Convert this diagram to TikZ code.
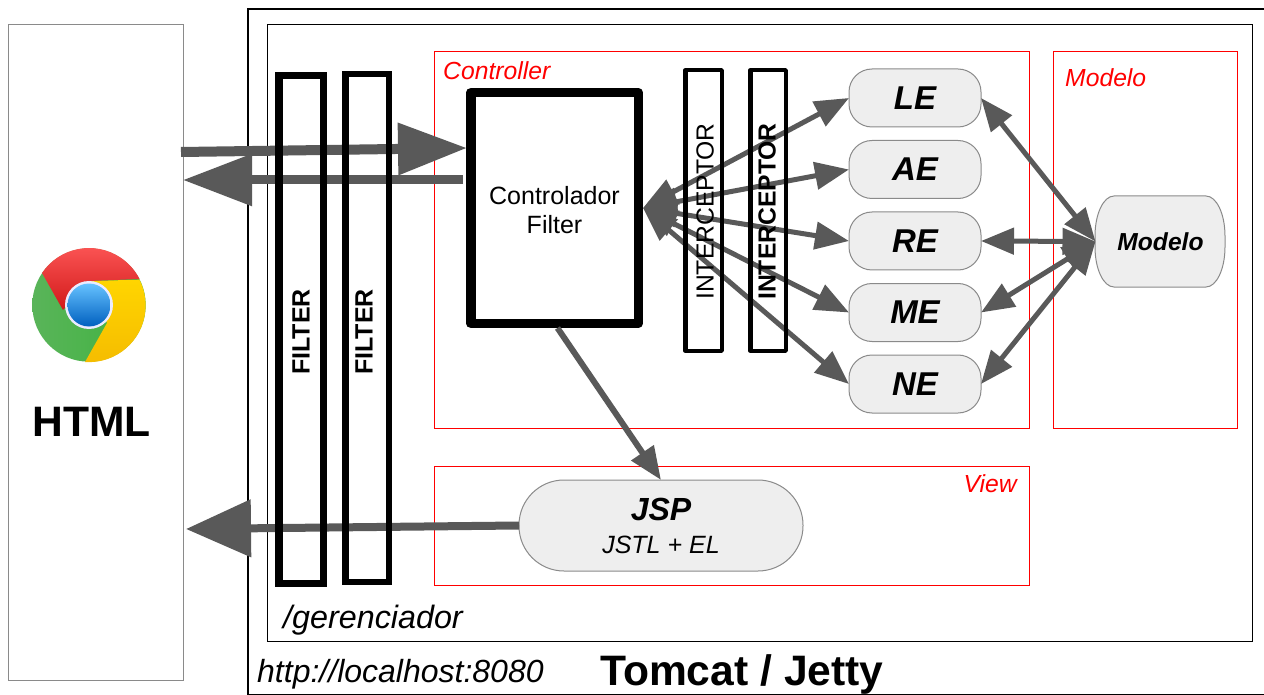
\documentclass[tikz,border=0pt]{standalone}
\usepackage{fontspec}
\setmainfont{Liberation Sans}
\usetikzlibrary{positioning, arrows.meta, calc}
\definecolor{arrowgray}{HTML}{595959}
\definecolor{nodegray}{HTML}{EEEEEE}
\definecolor{bordergray}{HTML}{8A8A8A}
\newcommand{\fsize}[1]{\fontsize{#1}{#1}\selectfont}
\tikzset{
    mvcbox/.style={rectangle, draw=red, line width=1pt, anchor=north west, inner sep=0pt},
    mvclabel/.style={text=red, font=\fsize{24.7}\itshape, inner sep=0pt},
    frame/.style={rectangle, draw=black, anchor=north west, inner sep=0pt},
    filterbox/.style={rectangle, draw=black, minimum height=507.5pt, inner sep=0pt},
    filterlabel/.style={rotate=90, font=\fsize{25}\bfseries, inner sep=0pt},
    interbox/.style={rectangle, draw=black, line join=round, line width=4.5pt, minimum height=280.5pt, inner sep=0pt},
    interlabel/.style={rotate=90, font=\fsize{24.7}, inner sep=0pt},
    action/.style={rectangle, draw=bordergray, fill=nodegray, line width=1pt, rounded corners=23pt, minimum width=132pt, minimum height=58pt, inner sep=0pt, outer sep=0pt, font=\fsize{33}\bfseries\itshape},
    fan/.style={draw=arrowgray, line width=5pt, {Triangle[length=34pt, width=27pt]}-{Triangle[length=34pt, width=27pt]}},
    link/.style={draw=arrowgray, line width=5pt, {Triangle[length=33pt, width=26pt]}-{Triangle[length=33pt, width=26pt]}},
    bigarrow/.style={draw=arrowgray, line width=10pt, -{Triangle[length=69pt, width=50pt]}}
}
\begin{document}
\begin{tikzpicture}[x=1pt, y=-1pt]
\useasboundingbox (0,0) rectangle (1264,695);

% Browser
\node (html) [rectangle, draw=bordergray, line width=1pt, anchor=north west, minimum width=175pt, minimum height=656pt, inner sep=0pt] at (8,24) {};
\node (htmllabel) [font=\fsize{42.6}\bfseries, anchor=base, inner sep=0pt] at (91.5,436.5) {HTML};

% Chrome logo
\shade[left color=green!55!black!65!white, right color=green!60!black!75!white] (89,305) circle (56.7);
\definecolor{chromegold}{HTML}{FFD500}
\definecolor{chromeamber}{HTML}{F5BC00}
\shade[top color=chromegold, bottom color=chromeamber] (85,362) arc (94:-27:56.7) -- (89,281) -- (107,323) -- cycle;
\shade[top color=red!65!white, bottom color=red!80!black!90!white] (42,273) arc (-146:-27:56.7) -- (89,281) -- (63,310) -- cycle;
\fill[white!92!blue] (89,305) circle (24);
\shade[top color=blue!40!cyan!60!white, bottom color=blue!50!cyan!75!black] (89,305) circle (21.5);

% Servers
\node (tomcat) [frame, line width=2.2pt, minimum width=1030pt, minimum height=686pt] at (247,8) {};
\node (context) [frame, line width=1.2pt, minimum width=985pt, minimum height=617pt] at (267,24) {};
\node (contextlabel) [font=\fsize{32.3}\itshape, anchor=base west, inner sep=0pt] at (283,628) {/gerenciador};
\node (tomcaturl) [font=\fsize{32}\itshape, anchor=base west, inner sep=0pt] at (257,682) {http://localhost:8080};
\node (tomcatlabel) [font=\fsize{42.6}\bfseries, anchor=base west, inner sep=0pt] at (600,685) {Tomcat / Jetty};

% MVC frames
\node (controller) [mvcbox, minimum width=595pt, minimum height=377pt] at (433.5,51) {};
\node (modelbox) [mvcbox, minimum width=184pt, minimum height=377pt] at (1053,51) {};
\node (view) [mvcbox, minimum width=595pt, minimum height=119pt] at (433.5,466) {};
\node (controllerlabel) [mvclabel, anchor=west] at (443,71) {Controller};
\node (modellabel) [mvclabel, anchor=west] at (1065,78) {Modelo};
\node (viewlabel) [mvclabel, anchor=east] at (1017,484) {View};

% Front controller
\node (ctrl) [rectangle, draw=black, line join=round, line width=9.5pt, minimum width=167.5pt, minimum height=230.5pt, inner sep=0pt] at (554.5,208) {};
\node (ctrllabel) [align=center, font=\fsize{25}, inner sep=0pt] at (554.5,210) {Controlador\\[4pt]Filter};

% Actions
\node (le) [action] at (915,98) {LE};
\node (ae) [action, below=13.5pt of le] {AE};
\node (re) [action, below=13.5pt of ae] {RE};
\node (me) [action, below=13.5pt of re] {ME};
\node (ne) [action, below=13.5pt of me] {NE};

% Model and view
\filldraw[draw=bordergray, fill=nodegray, line width=1pt] (1114,196) -- (1206,196) arc[start angle=-90, end angle=0, x radius=19, y radius=40] -- (1225,247) arc[start angle=0, end angle=90, x radius=19, y radius=40] -- (1114,287) arc[start angle=90, end angle=180, x radius=19, y radius=40] -- (1095,236) arc[start angle=180, end angle=270, x radius=19, y radius=40] -- cycle;
\node (modelo) [minimum width=130pt, minimum height=91pt, inner sep=0pt, outer sep=0pt, font=\fsize{24.6}\bfseries\itshape] at (1160.5,241.5) {Modelo};
\node (jsp) [action, rounded corners=45pt, minimum width=284pt, minimum height=91pt, align=center, font=\fsize{32}\bfseries\itshape] at (661,525.5) {JSP\\[1pt]{\fsize{25}\mdseries\itshape JSTL + EL}};

% Free ends of the browser arrows
\coordinate (reqstart) at (181,152);
\coordinate (reqend) at (467,148);
\coordinate (respstart) at (463,180);
\coordinate (respend) at (183,180);
\coordinate (jspend) at (186,529);

% Arrows
\draw[bigarrow] (reqstart) -- (reqend);
\draw[bigarrow, line width=9pt] (respstart) -- (respend);
\draw[bigarrow, line width=8pt, -{Triangle[length=65pt, width=56pt]}] (jsp.west) -- (jspend);
\draw[draw=arrowgray, line width=6pt, -{Triangle[length=33pt, width=26pt]}] (ctrl.south) ++(3,0) -- (jsp.north);

\draw[fan] (ctrl.east) -- (le.west);
\draw[fan] (ctrl.east) -- (ae.west);
\draw[fan] (ctrl.east) -- (re.west);
\draw[fan] (ctrl.east) -- (me.west);
\draw[fan] (ctrl.east) -- (ne.west);

\draw[link] (le.east) -- (modelo.west);
\draw[link] (re.east) -- (modelo.west);
\draw[link] (me.east) -- (modelo.west);
\draw[link] (ne.east) -- (modelo.west);

% Interceptors
\node (inter1) [interbox, minimum width=36.5pt] at (703.5,210.5) {};
\node (inter2) [interbox, minimum width=35.5pt] at (768,210.5) {};
\node (inter1label) [interlabel] at (705,211.5) {INTERCEPTOR};
\node (inter2label) [interlabel, font=\fsize{24.7}\bfseries] at (767,211.5) {INTERCEPTOR};

% Filters
\node (filter1) [filterbox, line width=7.5pt, minimum width=44.5pt] at (301,329.5) {};
\node (filter2) [filterbox, line width=6.5pt, minimum width=43.5pt] at (367,328) {};
\node (filter1label) [filterlabel] at (301,332) {FILTER};
\node (filter2label) [filterlabel] at (364,332) {FILTER};

\end{tikzpicture}
\end{document}
